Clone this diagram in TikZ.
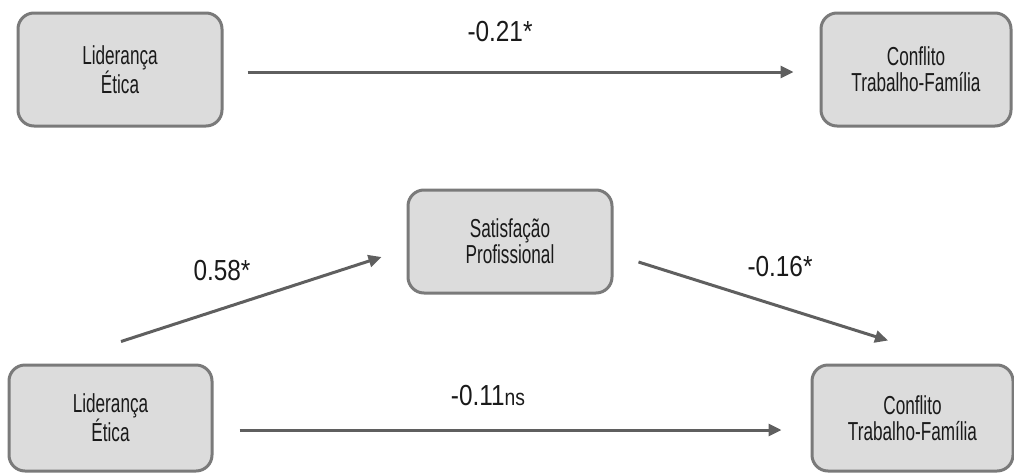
\documentclass[tikz,border=0pt]{standalone}
\usepackage{fontspec}
\setmainfont[FakeStretch=0.66]{Liberation Sans}
\newfontfamily\coeffont[FakeStretch=0.84]{Liberation Sans}
\usetikzlibrary{arrows.meta}
\definecolor{boxfill}{HTML}{DCDCDC}
\definecolor{boxline}{HTML}{7A7A7A}
\definecolor{arrline}{HTML}{5F5F5F}
\definecolor{txt}{HTML}{1A1A1A}
\tikzset{
  varbox/.style={draw=boxline, fill=boxfill, line width=3pt, rounded corners=16pt,
    align=center, text=txt, font=\fontsize{26}{26}\selectfont, inner sep=0pt},
  arr/.style={draw=arrline, line width=3pt, -{Triangle[length=13pt,width=12pt]}},
  coef/.style={text=txt, font=\coeffont\fontsize{29}{30}\selectfont, inner sep=0pt}
}
\begin{document}
\begin{tikzpicture}[x=1pt,y=-1pt]
\useasboundingbox (0,0) rectangle (1014,474);
% top model
\node[varbox, minimum width=204pt, minimum height=113pt] (le1) at (120,69.5) {Liderança\\Ética};
\node[varbox, minimum width=190pt, minimum height=113pt] (ctf1) at (916,69.5) {Conflito\\Trabalho-Família};
\draw[arr] ([xshift=24pt,yshift=-2.5pt]le1.east) -- ([xshift=-26pt,yshift=-2.5pt]ctf1.west);
\node[coef] (c1) at (500,32) {-0.21*};
% bottom model
\node[varbox, minimum width=204pt, minimum height=103pt] (sp) at (510,241.5) {Satisfação\\Profissional};
\node[varbox, minimum width=203pt, minimum height=106pt] (le2) at (110.5,418) {Liderança\\Ética};
\node[varbox, minimum width=201pt, minimum height=106pt] (ctf2) at (912.5,418) {Conflito\\Trabalho-Família};
\draw[arr] ([xshift=10.5pt,yshift=22pt]le2.north) -- ([xshift=-25pt,yshift=-15.5pt]sp.west);
\draw[arr] ([xshift=25pt,yshift=-20.5pt]sp.east) -- ([xshift=-24.5pt,yshift=23pt]ctf2.north);
\draw[arr] ([xshift=26pt,yshift=-12pt]le2.east) -- ([xshift=-29pt,yshift=-12pt]ctf2.west);
\node[coef] (c2) at (222,271) {0.58*};
\node[coef] (c3) at (780,267) {-0.16*};
\node[coef] (c4) at (488,396) {-0.11{\fontsize{23}{24}\selectfont ns}};
\end{tikzpicture}
\end{document}
